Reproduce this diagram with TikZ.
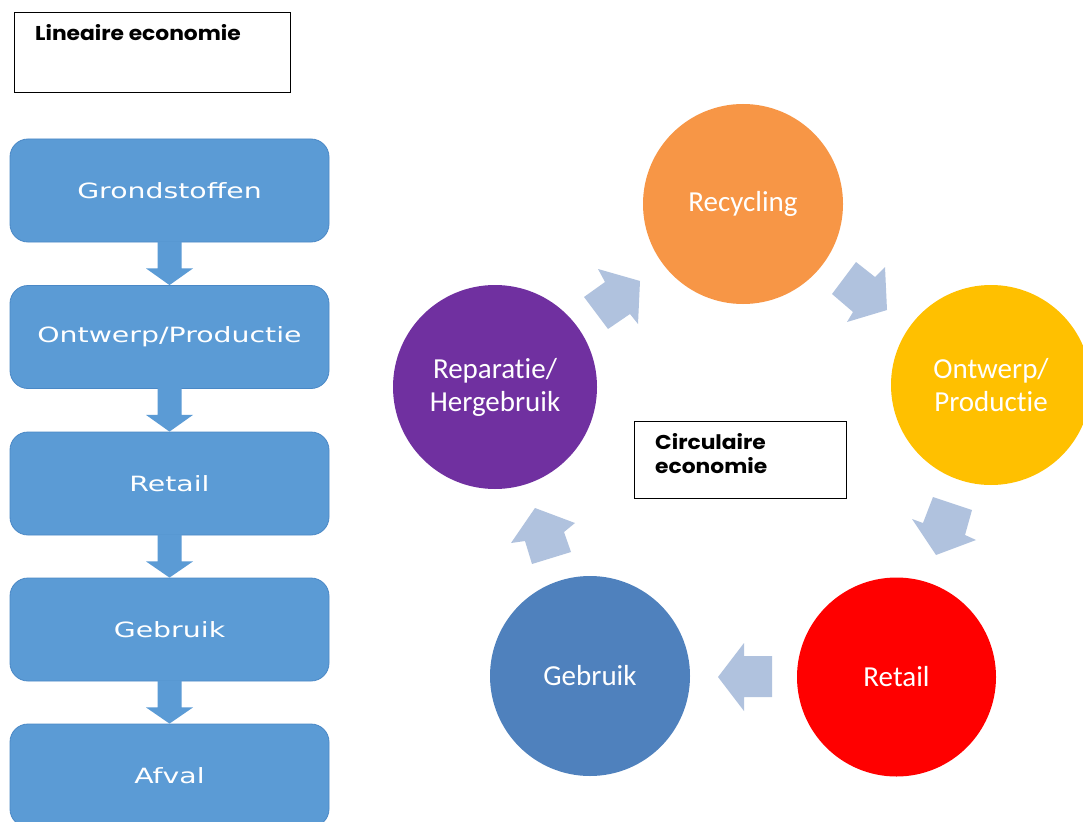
\documentclass[tikz,border=0pt]{standalone}
\usepackage{fontspec}
\usetikzlibrary{calc}
\newfontfamily\headfont[FakeStretch=1.09]{Poppins}
\newfontfamily\boxfont[FakeStretch=1.35]{DejaVu Sans}
\newfontfamily\circfont[Ligatures=NoCommon]{Carlito}
\definecolor{boxblue}{HTML}{5B9BD5}
\definecolor{boxedge}{HTML}{4A88C6}
\definecolor{arrowblue}{HTML}{B0C2DE}
\definecolor{recyc}{HTML}{F79646}
\definecolor{ontw}{HTML}{FFC000}
\definecolor{retl}{HTML}{FF0000}
\definecolor{gebr}{HTML}{4F81BD}
\definecolor{repa}{HTML}{7030A0}
\newcommand\flowarrow[2]{%
  \fill[flowfill] ($(#1.south)+(-12,-1)$) -- ($(#1.south)+(12,-1)$) -- ($(#1.south)+(12,26)$)
   -- ($(#1.south)+(23.5,26)$) -- (#2.north) -- ($(#1.south)+(-23.5,26)$)
   -- ($(#1.south)+(-12,26)$) -- cycle;}
\begin{document}
\begin{tikzpicture}[x=1pt,y=-1pt,
  stagebox/.style={draw=boxedge, fill=boxblue, rounded corners=18pt, line width=0.8pt,
    minimum width=319pt, minimum height=103pt, inner sep=0pt, text=white,
    font=\boxfont\fontsize{21}{25}\selectfont},
  stage/.style={circle, inner sep=0pt, text=white, align=center,
    font=\circfont\fontsize{29}{33}\selectfont},
  flowfill/.style={fill=boxblue},
  cyclearrow/.style={fill=arrowblue},
  titlebox/.style={draw=black, line width=0.9pt, fill=white, inner sep=0pt},
  titletext/.style={font=\headfont\bfseries\fontsize{20}{24}\selectfont, inner sep=0pt, align=left}]
\useasboundingbox (0,0) rectangle (1083,821);
\clip (0,0) rectangle (1083,821);
\fill[white] (0,0) rectangle (1083,821);

% linear economy
\node[titlebox, minimum width=276pt, minimum height=80pt, anchor=north west] (linbox) at (14,12) {};
\node[titletext, anchor=base west] (lintext) at (35,41) {Lineaire economie};

\node[stagebox] (g1) at (169.5,190.5) {Grondstoffen};
\node[stagebox] (g2) at (169.5,337) {Ontwerp/Productie};
\node[stagebox] (g3) at (169.5,483.5) {Retail};
\node[stagebox] (g4) at (169.5,629.5) {Gebruik};
\node[stagebox] (g5) at (169.5,775.5) {Afval};
\flowarrow{g1}{g2}
\flowarrow{g2}{g3}
\flowarrow{g3}{g4}
\flowarrow{g4}{g5}

% circular economy
\node[stage, fill=recyc, minimum size=200pt] (c1) at (743,204) {Recycling};
\node[stage, fill=ontw, minimum size=200pt] (c2) at (991,385) {Ontwerp/\\Productie};
\node[stage, fill=retl, minimum size=199pt] (c3) at (896.5,677) {Retail};
\node[stage, fill=gebr, minimum size=200pt] (c4) at (590,676) {Gebruik};
\node[stage, fill=repa, minimum size=204pt] (c5) at (495,387) {Reparatie/\\Hergebruik};

\node[titlebox, minimum width=212pt, minimum height=77pt, anchor=north west] (circbox) at (634,421) {};
\node[titletext, anchor=base west] (circtext1) at (655,449) {Circulaire};
\node[titletext, anchor=base west] (circtext2) at (655,473) {economie};

% block arrows of the cycle
\fill[cyclearrow] (598,269) -- (640,281) -- (638,324) -- (630,314) -- (608,329) -- (584,297) -- (605,282) -- cycle;
\fill[cyclearrow] (856,262) -- (875,277) -- (885,267) -- (887,310) -- (847,322) -- (853,312) -- (832,294) -- cycle;
\fill[cyclearrow] (933,497) -- (972,510) -- (965,535) -- (976,540) -- (936,555) -- (912,519) -- (923,523) -- cycle;
\fill[cyclearrow] (772,656) -- (772,697) -- (744,697) -- (744,711) -- (718,677) -- (744,643) -- (744,656) -- cycle;
\fill[cyclearrow] (535,508) -- (575,523) -- (564,532) -- (571,552) -- (532,564) -- (525,541) -- (511,543) -- cycle;
\end{tikzpicture}
\end{document}
